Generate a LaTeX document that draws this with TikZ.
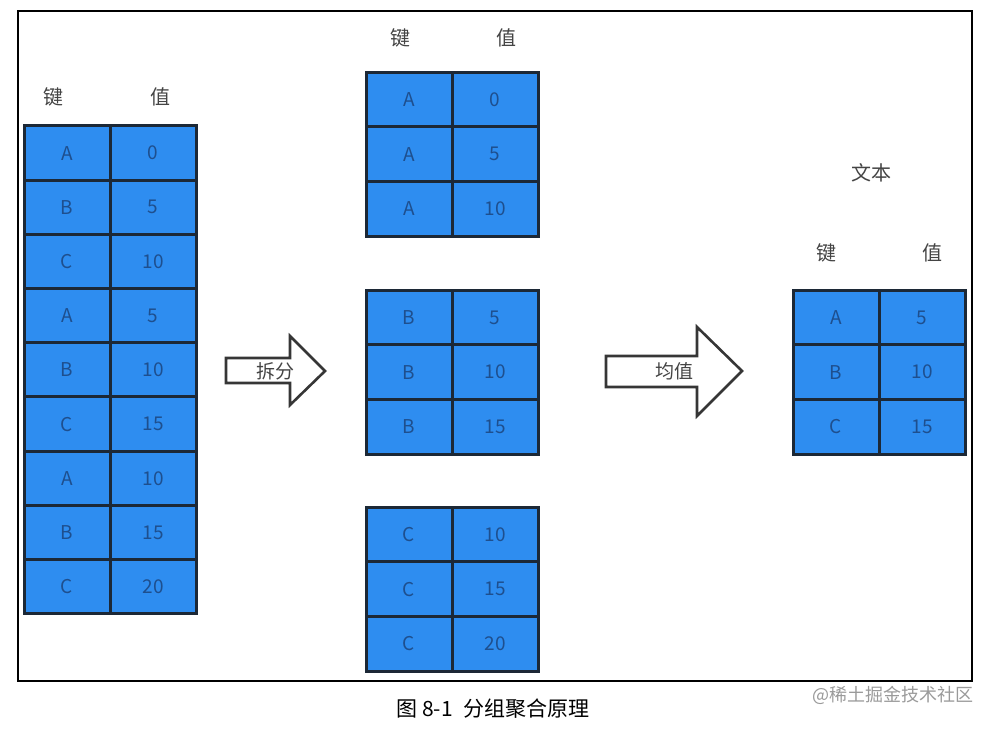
\documentclass[tikz,border=0pt]{standalone}
\usepackage{fontspec}
\setmainfont{Noto Sans CJK SC}
\newfontfamily\cjk{Noto Sans CJK SC}
\definecolor{cellblue}{HTML}{2E8DF0}
\definecolor{cellline}{HTML}{1C2836}
\definecolor{celltext}{HTML}{1E4F8E}
\definecolor{labgray}{HTML}{444444}
\definecolor{wmgray}{HTML}{9A9A9A}
\tikzset{
  cell/.style={draw=cellline, line width=3pt, fill=cellblue, minimum width=86pt, minimum height=54.5pt, inner sep=0pt, text=celltext, font=\cjk\fontsize{19}{19}\selectfont},
  head/.style={text=labgray, inner sep=0pt, font=\cjk\fontsize{20}{20}\selectfont},
  bigarrow/.style={draw=labgray!80!black, line width=2.6pt, fill=white, line join=miter},
  arrlabel/.style={text=labgray, inner sep=0pt, font=\cjk\fontsize{19}{19}\selectfont}
}
\begin{document}
\begin{tikzpicture}[x=1pt,y=-1pt]
\useasboundingbox (0,0) rectangle (998,728);
\fill[white] (0,0) rectangle (998,728);
\draw[line width=1.8pt, black] (18,11) rectangle (972,681);
% left table
\node[head] (Lhk) at (53,97) {键};
\node[head] (Lhv) at (160,97) {值};
\foreach \k/\v [count=\i] in {A/0,B/5,C/10,A/5,B/10,C/15,A/10,B/15,C/20}{
  \node[cell] (L\i k) at (67,{126+54.2*(\i-0.5)}) {\k};
  \node[cell] (L\i v) at (153,{126+54.2*(\i-0.5)}) {\v};
}
% middle tables
\node[head] (Mhk) at (400,38) {键};
\node[head] (Mhv) at (506,38) {值};
\foreach \k/\v [count=\i] in {A/0,A/5,A/10}{
  \node[cell] (MA\i k) at (409,{72+54.8*(\i-0.5)}) {\k};
  \node[cell] (MA\i v) at (495,{72+54.8*(\i-0.5)}) {\v};
}
\foreach \k/\v [count=\i] in {B/5,B/10,B/15}{
  \node[cell] (MB\i k) at (409,{290+54.8*(\i-0.5)}) {\k};
  \node[cell] (MB\i v) at (495,{290+54.8*(\i-0.5)}) {\v};
}
\foreach \k/\v [count=\i] in {C/10,C/15,C/20}{
  \node[cell] (MC\i k) at (409,{507+54.8*(\i-0.5)}) {\k};
  \node[cell] (MC\i v) at (495,{507+54.8*(\i-0.5)}) {\v};
}
% right table
\node[head] (Rtitle) at (871,173) {文本};
\node[head] (Rhk) at (826,253) {键};
\node[head] (Rhv) at (932,253) {值};
\foreach \k/\v [count=\i] in {A/5,B/10,C/15}{
  \node[cell] (R\i k) at (836,{290+54.8*(\i-0.5)}) {\k};
  \node[cell] (R\i v) at (922,{290+54.8*(\i-0.5)}) {\v};
}
% arrows
\draw[bigarrow] (226,358) -- (290,358) -- (290,336) -- (325,371) -- (290,405) -- (290,383) -- (226,383) -- cycle;
\node[arrlabel] (split) at (275,371) {拆分};
\draw[bigarrow] (606,356) -- (697,356) -- (697,327) -- (742,371) -- (697,416) -- (697,387) -- (606,387) -- cycle;
\node[arrlabel] (mean) at (674,371) {均值};
% caption
\node[inner sep=0pt, font=\cjk\fontsize{21}{21}\selectfont, text=black] (cap) at (493,709) {图 8-1\enspace 分组聚合原理};
\node[inner sep=0pt, font=\cjk\fontsize{18}{18}\selectfont, text=wmgray] (wm) at (893,695) {@稀土掘金技术社区};
\end{tikzpicture}
\end{document}
